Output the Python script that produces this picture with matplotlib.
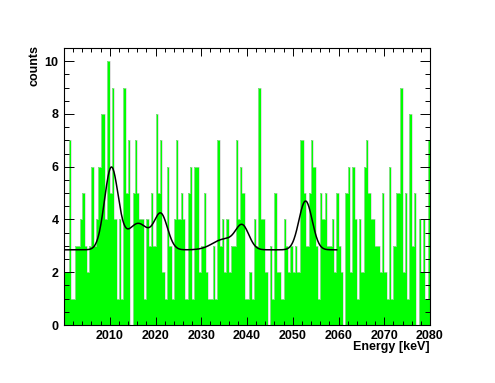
import numpy as np
import matplotlib
matplotlib.use("Agg")
import matplotlib.pyplot as plt
from matplotlib.ticker import MultipleLocator, FixedLocator

# histograma: 160 bins de 0.5 keV entre 2000 y 2080
e_min = 2000.0
e_max = 2080.0
counts = [2, 2, 7, 1, 1, 3, 3, 4, 5, 3, 2, 3, 6, 3, 4, 6, 8, 8, 4, 10,
          5, 9, 4, 1, 4, 1, 9, 5, 7, 0, 5, 7, 5, 4, 4, 1, 4, 3, 5, 3,
          8, 5, 7, 2, 1, 6, 3, 1, 4, 7, 4, 5, 4, 1, 5, 6, 1, 6, 6, 2, 3, 5,
          2, 1, 1, 3, 1, 7, 3, 4, 2, 4, 2, 3, 3, 7, 4, 6, 5, 1, 1, 2, 1,
          4, 3, 9, 4, 4, 2, 0, 3, 1, 5, 2, 2, 1, 4, 3, 2, 3, 2, 3, 2, 7,
          7, 5, 3, 5, 7, 6, 3, 1, 5, 4, 5, 3, 3, 4, 2, 5, 3, 2, 0, 5,
          6, 2, 6, 4, 1, 4, 2, 6, 7, 5, 4, 4, 3, 3, 2, 5, 2, 1, 6, 1, 3,
          5, 5, 9, 2, 5, 1, 8, 3, 5, 0, 4, 2, 4, 1, 7]

# parametros del ajuste (fondo plano + gaussianas)
fondo = 2.85
centros = [2010.35, 2016.2, 2021.2, 2035.0, 2039.0, 2052.8]
alturas = [3.1, 1.0, 1.3, 0.4, 0.85, 1.85]
sigmas = [1.5, 2.3, 1.46, 2.5, 1.45, 1.45]
fit_min = 2000.1
fit_max = 2059.6

edges = np.linspace(e_min, e_max, len(counts) + 1)

fig = plt.figure(figsize=(4.95, 3.83), dpi=100)
ax = fig.add_axes([64 / 495, 1 - 325 / 383, 366 / 495, 277 / 383])

# barras verdes con contorno gris claro
ax.stairs(counts, edges, fill=True, color="#00ff00", lw=0)
ax.stairs(counts, edges, color="#cfcfcf", lw=0.45)

# curva del ajuste
xf = np.linspace(fit_min, fit_max, 600)
yf = np.full_like(xf, fondo)
for c, a, s in zip(centros, alturas, sigmas):
    yf += a * np.exp(-0.5 * ((xf - c) / s) ** 2)
ax.plot(xf, yf, color="black", lw=1.1)

ax.set_xlim(e_min, e_max)
ax.set_ylim(0, 10.5)

fuente = {"family": "Liberation Sans", "weight": "bold", "size": 9}
ax.xaxis.set_major_locator(FixedLocator(np.arange(2010, 2081, 10)))
ax.xaxis.set_minor_locator(MultipleLocator(2))
ax.yaxis.set_major_locator(MultipleLocator(2))
ax.yaxis.set_minor_locator(MultipleLocator(0.5))
ax.tick_params(which="both", direction="in", top=True, right=True, width=0.7)
ax.tick_params(axis="x", which="major", length=6, pad=3.5)
ax.tick_params(axis="x", which="minor", length=3)
ax.tick_params(axis="y", which="major", length=7.2, pad=4)
ax.tick_params(axis="y", which="minor", length=3.6)
for lab in ax.get_xticklabels() + ax.get_yticklabels():
    lab.set_fontproperties(fuente)
for sp in ax.spines.values():
    sp.set_linewidth(0.8)

fig.text(34 / 495, 1 - 45 / 383, "counts", rotation=90, ha="center", va="top", **fuente)
fig.text(430 / 495, 1 - 347 / 383, "Energy [keV]", ha="right", va="center", **fuente)

fig.savefig("out.png", dpi=100)
